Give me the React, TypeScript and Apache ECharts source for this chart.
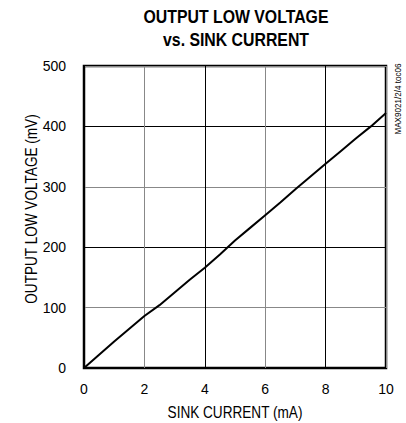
import React, { useEffect, useRef } from "react";
import * as echarts from "echarts";

const currentMA = [0, 0.5, 1, 1.5, 2, 2.5, 3, 3.5, 4, 4.5, 5, 5.5, 6, 6.5, 7, 7.5, 8, 8.5, 9, 9.5, 10];
const voltageMV = [0, 22, 44, 65, 86, 104, 125, 146, 166, 188, 211, 232, 253, 274, 296, 317, 338, 359, 380, 400, 422];
const xTicks = [0, 2, 4, 6, 8, 10];
const yTicks = [0, 100, 200, 300, 400, 500];

const FONT = "'Liberation Sans', Arial, sans-serif";

export default function App() {
  const ref = useRef<HTMLDivElement>(null);
  useEffect(() => {
    if (!ref.current) return;
    const chart = echarts.init(ref.current, null, { renderer: "svg" });
    chart.setOption({
      animation: false,
      backgroundColor: "#fff",
      grid: {
        left: 84,
        right: 20,
        top: 66,
        bottom: 55,
        show: true,
        borderColor: "#000",
        borderWidth: 2.5,
        backgroundColor: "transparent",
      },
      xAxis: {
        type: "value",
        min: xTicks[0],
        max: xTicks[xTicks.length - 1],
        interval: 2,
        axisLine: { show: false },
        axisTick: { show: false },
        axisLabel: { color: "#000", fontSize: 14, fontFamily: FONT, margin: 14 },
        splitLine: { show: true, lineStyle: { color: ["#000", "#888"], width: 1 } },
      },
      yAxis: {
        type: "value",
        min: yTicks[0],
        max: yTicks[yTicks.length - 1],
        interval: 100,
        axisLine: { show: false },
        axisTick: { show: false },
        axisLabel: { color: "#000", fontSize: 14, fontFamily: FONT, margin: 18 },
        splitLine: { show: true, lineStyle: { color: ["#000", "#888"], width: 1 } },
      },
      series: [
        {
          type: "line",
          data: currentMA.map((c, i) => [c, voltageMV[i]]),
          showSymbol: false,
          lineStyle: { color: "#000", width: 2 },
          z: 5,
        },
      ],
      graphic: [
        {
          type: "text",
          x: 236,
          y: 17,
          scaleX: 0.88,
          style: {
            text: "OUTPUT LOW VOLTAGE",
            align: "center",
            verticalAlign: "middle",
            fill: "#000",
            font: `bold 18px ${FONT}`,
          },
        },
        {
          type: "text",
          x: 236,
          y: 40,
          scaleX: 0.88,
          style: {
            text: "vs. SINK CURRENT",
            align: "center",
            verticalAlign: "middle",
            fill: "#000",
            font: `bold 18px ${FONT}`,
          },
        },
        {
          type: "text",
          x: 235,
          y: 413,
          scaleX: 0.85,
          style: {
            text: "SINK CURRENT (mA)",
            align: "center",
            verticalAlign: "middle",
            fill: "#000",
            font: `16px ${FONT}`,
          },
        },
        {
          type: "text",
          x: 32,
          y: 209,
          rotation: Math.PI / 2,
          scaleX: 0.85,
          style: {
            text: "OUTPUT LOW VOLTAGE (mV)",
            align: "center",
            verticalAlign: "middle",
            fill: "#000",
            font: `16px ${FONT}`,
          },
        },
        {
          type: "text",
          x: 398,
          y: 99,
          rotation: Math.PI / 2,
          scaleX: 0.9,
          style: {
            text: "MAX9021/2/4 toc06",
            align: "center",
            verticalAlign: "middle",
            fill: "#000",
            font: `9px ${FONT}`,
          },
        },
      ],
    });
    return () => chart.dispose();
  }, []);
  return <div ref={ref} style={{ width: 406, height: 423, position: "absolute", left: 0, top: 0 }} />;
}
